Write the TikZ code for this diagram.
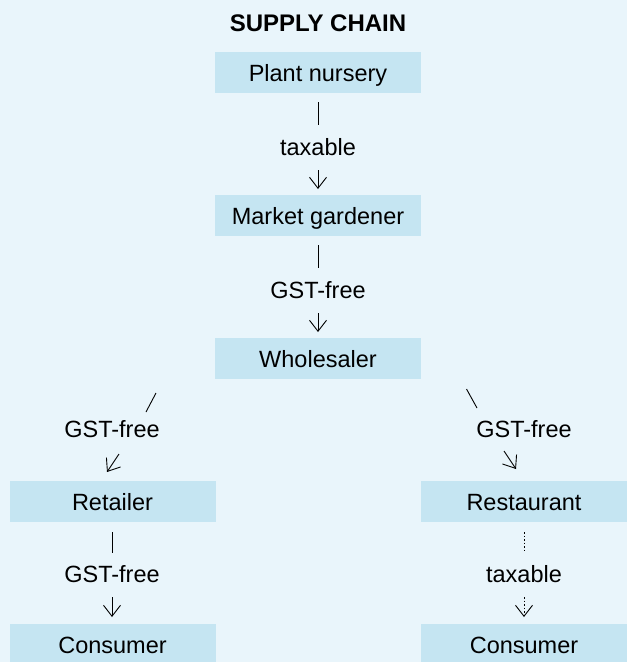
\documentclass[tikz,border=0pt]{standalone}
\usepackage{fontspec}
\setmainfont{Liberation Sans}
\usetikzlibrary{arrows.meta}
\definecolor{bgblue}{RGB}{233,245,251}
\definecolor{boxblue}{RGB}{197,229,242}
\tikzset{
  box/.style={fill=boxblue, minimum width=206pt, minimum height=41pt, inner sep=0pt,
    text height=17pt, text depth=0pt, font=\fontsize{23.5}{26}\selectfont},
  lbl/.style={inner sep=0pt, text height=17pt, text depth=0pt, font=\fontsize{23.5}{26}\selectfont},
  conn/.style={line width=0.9pt},
  arr/.style={line width=0.9pt, -{Straight Barb[length=11pt,width=17pt,line width=0.9pt]}},
  dots/.style={line width=1pt, dash pattern=on 1.5pt off 2pt}
}
\begin{document}
\begin{tikzpicture}[x=1pt,y=-1pt]
\fill[bgblue] (0,0) rectangle (627,662);
\useasboundingbox (0,0) rectangle (627,662);
\clip (0,0) rectangle (627,662);
% title
\node[lbl, font=\fontsize{24}{27}\selectfont\bfseries] (title) at (318,22.5) {SUPPLY CHAIN};
% boxes
\node[box] (pn) at (318,72.5) {Plant nursery};
\node[box] (mg) at (318,215.5) {Market gardener};
\node[box] (ws) at (318,358.5) {Wholesaler};
\node[box] (rt) at (112.5,501.5) {Retailer};
\node[box] (rs) at (524,501.5) {Restaurant};
\node[box] (c1) at (112.5,644.5) {Consumer};
\node[box] (c2) at (524,644.5) {Consumer};
% labels
\node[lbl] (l1) at (318,146.5) {taxable};
\node[lbl] (l2) at (318,289.5) {GST-free};
\node[lbl] (l3) at (112,428.5) {GST-free};
\node[lbl] (l4) at (524,428.5) {GST-free};
\node[lbl] (l5) at (112,573.5) {GST-free};
\node[lbl] (l6) at (524,573.5) {taxable};
% connector end points
\coordinate (a1) at (318,102); \coordinate (a2) at (318,125);
\coordinate (a3) at (318,170); \coordinate (a4) at (318,189);
\coordinate (b1) at (318,245); \coordinate (b2) at (318,268);
\coordinate (b3) at (318,313); \coordinate (b4) at (318,332);
\coordinate (c1a) at (156,393); \coordinate (c1b) at (146,412);
\coordinate (c1c) at (119,454); \coordinate (c1d) at (107,472);
\coordinate (d1) at (466.5,389); \coordinate (d2) at (477,408);
\coordinate (d3) at (504,451); \coordinate (d4) at (516,469);
\coordinate (e1) at (112,532); \coordinate (e2) at (112,553);
\coordinate (e3) at (112,597); \coordinate (e4) at (112,617);
\coordinate (f1) at (524,532); \coordinate (f2) at (524,553);
\coordinate (f3) at (524,597); \coordinate (f4) at (524,617);
% connectors
\draw[conn] (a1) -- (a2);
\draw[arr] (a3) -- (a4);
\draw[conn] (b1) -- (b2);
\draw[arr] (b3) -- (b4);
\draw[conn] (c1a) -- (c1b);
\draw[arr] (c1c) -- (c1d);
\draw[conn] (d1) -- (d2);
\draw[arr] (d3) -- (d4);
\draw[conn] (e1) -- (e2);
\draw[arr] (e3) -- (e4);
\draw[conn,dots] (f1) -- (f2);
\draw[arr,dots] (f3) -- (f4);
\end{tikzpicture}
\end{document}
